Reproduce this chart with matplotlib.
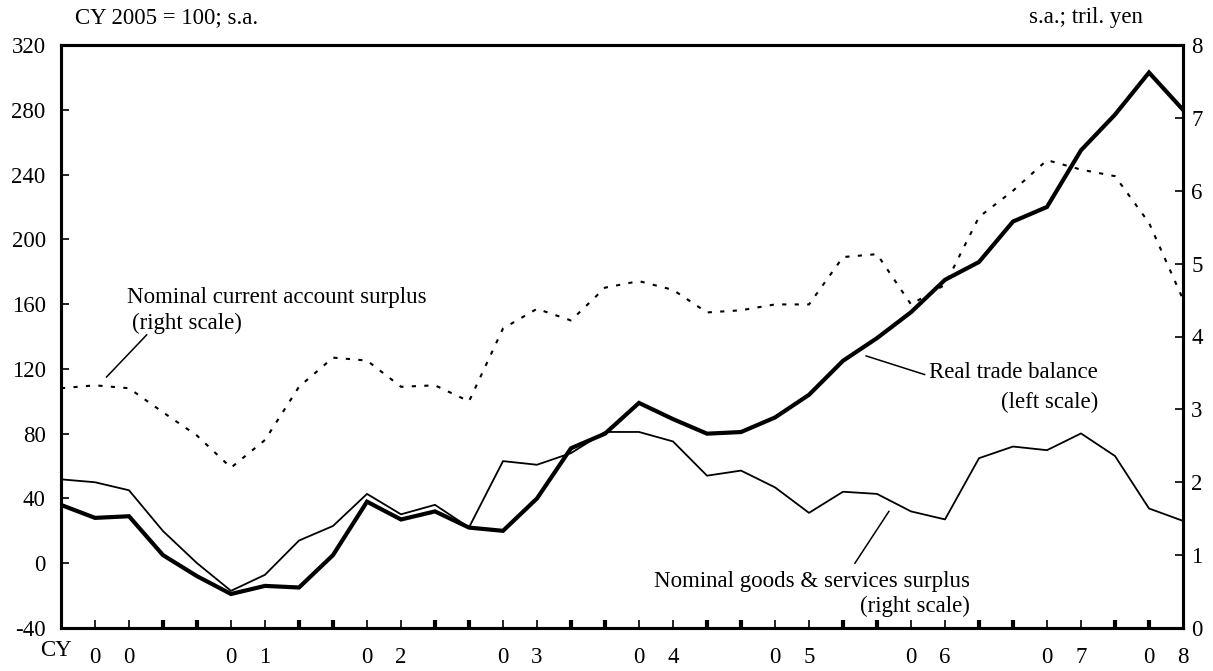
import matplotlib
matplotlib.use("Agg")
import matplotlib.pyplot as plt
import matplotlib.transforms as mtransforms

# Quarterly data, CY2000 Q1 - CY2008 Q2
real_trade = [36, 28, 29, 5, -8, -19, -14, -15, 5, 38, 27, 32, 22, 20, 40, 71,
              80, 99, 89, 80, 81, 90, 104, 125, 139, 155, 175, 186, 211, 220,
              255, 277, 303, 280]
goods_services = [2.04, 2.00, 1.89, 1.33, 0.89, 0.51, 0.73, 1.20, 1.40, 1.84,
                  1.56, 1.69, 1.38, 2.29, 2.24, 2.40, 2.69, 2.69, 2.56, 2.09,
                  2.16, 1.93, 1.58, 1.87, 1.84, 1.60, 1.49, 2.33, 2.49, 2.44,
                  2.67, 2.36, 1.64, 1.47]
current_account = [3.29, 3.33, 3.29, 2.96, 2.64, 2.20, 2.58, 3.31, 3.71, 3.67,
                   3.31, 3.33, 3.11, 4.11, 4.38, 4.22, 4.67, 4.76, 4.64, 4.33,
                   4.36, 4.44, 4.44, 5.09, 5.13, 4.44, 4.71, 5.64, 6.00, 6.42,
                   6.29, 6.20, 5.56, 4.51]
year_digits = ["00", "01", "02", "03", "04", "05", "06", "07", "08"]
left_ticks = list(range(-40, 321, 40))
right_ticks = list(range(0, 9))

plt.rcParams['font.family'] = ['Liberation Serif', 'DejaVu Serif']
plt.rcParams['font.size'] = 16
plt.rcParams['axes.unicode_minus'] = False

W, H = 1213, 671
fig = plt.figure(figsize=(W / 100, H / 100), dpi=100)
ax = fig.add_axes([61 / W, 1 - 628 / H, (1183 - 61) / W, (628 - 45) / H])
ax2 = ax.twinx()

xs = list(range(len(real_trade)))
ax2.plot(xs, current_account, color="black", lw=1.5, linestyle=(0, (2.0, 4.0)))
ax2.plot(xs, goods_services, color="black", lw=1.3)
ax.plot(xs, real_trade, color="black", lw=3.0, solid_joinstyle="miter")
ax.set_zorder(ax2.get_zorder() + 1)
ax.patch.set_visible(False)

ax.set_xlim(0, len(xs) - 1)
ax.set_ylim(-40, 320)
ax2.set_ylim(0, 8)
ax.set_yticks(left_ticks)
ax2.set_yticks(right_ticks)
ax.tick_params(axis="y", direction="in", length=6, width=1.2, pad=11,
               labelsize=16.5)
ax2.tick_params(axis="y", direction="in", length=6, width=1.2, pad=6,
                labelsize=16.5)

# quarter ticks, thicker at year boundaries
thick = [i for i in xs if i % 4 in (0, 3) and 0 < i < len(xs) - 1]
thin = [i for i in xs if i not in thick and 0 < i < len(xs) - 1]
ax.set_xticks(thin)
ax.set_xticks(thick, minor=True)
ax.set_xticklabels([])
ax.tick_params(axis="x", which="major", direction="in", length=6, width=1.2)
ax.tick_params(axis="x", which="minor", direction="in", length=6, width=3)
ax2.tick_params(axis="x", which="both", bottom=False, top=False)

for a in (ax, ax2):
    for s in a.spines.values():
        s.set_linewidth(2.2)

# year labels under the axis
trans = mtransforms.blended_transform_factory(ax.transData, ax.transAxes)
for k, yd in enumerate(year_digits):
    p = 4 * k + 1 if k < len(year_digits) - 1 else len(xs) - 2
    ax.text(p, -0.05, yd[0], transform=trans, ha="center", va="center",
            fontsize=16.5)
    ax.text(p + 1, -0.05, yd[1], transform=trans, ha="center", va="center",
            fontsize=16.5)
fig.text(40 / W, 1 - 650 / H, "CY", ha="left", va="center", fontsize=16.5)

fig.text(75 / W, 1 - 18 / H, "CY 2005 = 100; s.a.", ha="left", va="center",
         fontsize=16.5)
fig.text(1143 / W, 1 - 18 / H, "s.a.; tril. yen", ha="right", va="center",
         fontsize=16.5)

# annotations
ax.text(1.94, 164, "Nominal current account surplus", ha="left", va="center",
        fontsize=16.5)
ax.text(2.08, 148, "(right scale)", ha="left", va="center", fontsize=16.5)
ax.plot([1.34, 2.52], [115, 141], color="black", lw=1.1)

ax.text(30.5, 118, "Real trade balance", ha="right", va="center", fontsize=16.5)
ax.text(30.5, 99.5, "(left scale)", ha="right", va="center", fontsize=16.5)
ax.plot([23.68, 25.4], [128, 116.5], color="black", lw=1.1)

ax.text(26.74, -11, "Nominal goods & services surplus", ha="right",
        va="center", fontsize=16.5)
ax.text(26.74, -26.5, "(right scale)", ha="right", va="center", fontsize=16.5)
ax.plot([23.35, 24.35], [0, 32], color="black", lw=1.1)

fig.savefig("out.png", dpi=100)
